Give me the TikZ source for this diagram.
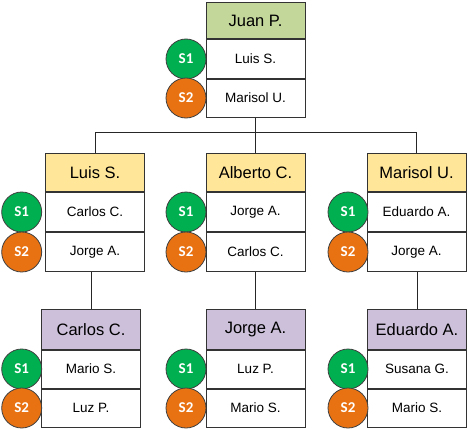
\documentclass[tikz,border=0pt]{standalone}
\usepackage{fontspec}
\setmainfont{Liberation Sans}
\newfontfamily\badgefont{Carlito}
\definecolor{lgreen}{RGB}{196,215,155}
\definecolor{lyellow}{RGB}{255,230,153}
\definecolor{lpurple}{RGB}{204,192,218}
\definecolor{sgreen}{RGB}{0,176,80}
\definecolor{sorange}{RGB}{232,113,18}
\tikzset{
  box/.style={draw=black!80, line width=1pt, minimum width=99pt, inner sep=0pt,
    anchor=north west, fill=white, font=\fontsize{13.5}{16}\selectfont},
  titlebox/.style={box, font=\fontsize{16.5}{19}\selectfont},
  sone/.style={circle, draw=black!75, line width=0.8pt, fill=sgreen, minimum size=40pt,
    inner sep=0pt, text=white, font=\badgefont\bfseries\fontsize{15}{17}\selectfont},
  stwo/.style={sone, fill=sorange},
  link/.style={draw=black!85, line width=1pt}
}
\newcommand\orgcard[9]{%
  \node[titlebox, fill=#6, minimum height=#4pt] (#1) at (#2,#3) {#7};
  \node[box, minimum height=#5pt] (#11) at (#1.south west) {#8};
  \node[box, minimum height=#5pt] (#12) at (#11.south west) {#9};
}
\newcommand\badges[2]{%
  \node[sone] (#1sa) at (#2,0 |- #11.center) {S1};
  \node[stwo] (#1sb) at (#2,0 |- #12.center) {S2};
}
\begin{document}
\begin{tikzpicture}[x=1pt,y=-1pt]
\fill[white] (0,0) rectangle (468,428);
\useasboundingbox (0,0) rectangle (468,428);
\coordinate (bus) at (0,132.7);
\orgcard{jp}{205.5}{2}{36.5}{38}{lgreen}{Juan P.}{Luis S.}{Marisol U.}
\badges{jp}{186}
\orgcard{ls}{45}{153}{38}{39}{lyellow}{Luis S.}{Carlos C.}{Jorge A.}
\badges{ls}{21.7}
\orgcard{ac}{205.5}{153}{38}{39}{lyellow}{Alberto C.}{Jorge A.}{Carlos C.}
\badges{ac}{186}
\orgcard{mu}{366.5}{153}{38}{39}{lyellow}{Marisol U.}{Eduardo A.}{Jorge A.}
\badges{mu}{348}
\orgcard{cc}{41}{309}{39.5}{38}{lpurple}{Carlos C.}{Mario S.}{Luz P.}
\badges{cc}{21.7}
\orgcard{ja}{205.5}{309}{39.5}{38}{lpurple}{Jorge A.}{Luz P.}{Mario S.}
\badges{ja}{186}
\orgcard{ea}{367}{309}{39.5}{38}{lpurple}{Eduardo A.}{Susana G.}{Mario S.}
\badges{ea}{348}
\draw[link] (jp2.south) -- (jp2.south |- bus);
\draw[link] (ls.north) |- (mu.north |- bus) -- (mu.north);
\draw[link] (ac.north) -- (ac.north |- bus);
\draw[link] (ls2.south -| cc.north) -- (cc.north);
\draw[link] (ac2.south) -- (ja.north);
\draw[link] (mu2.south -| ea.north) -- (ea.north);
\end{tikzpicture}
\end{document}
